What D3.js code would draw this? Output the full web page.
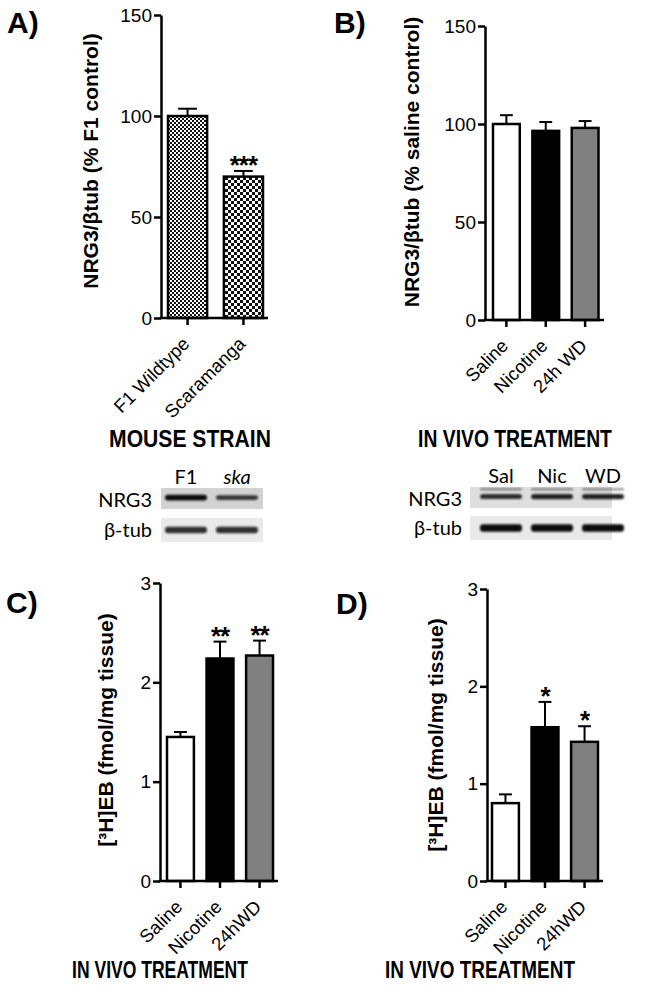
<!DOCTYPE html>
<html>
<head>
<meta charset="utf-8">
<script src="https://cdn.jsdelivr.net/npm/d3@7"></script>
<style>
body { margin: 0; background: #fff; }
svg { display: block; font-family: "Liberation Sans", Arial, sans-serif; }
</style>
</head>
<body>
<svg id="fig" width="651" height="998"></svg>
<script>
// values
const strainLabels = ['F1 Wildtype', 'Scaramanga'];
const strainNrg3 = [100, 70];
const strainNrg3Sem = [3.6, 2.8];
const strainSig = ['', '***'];

const treatLabelsB = ['Saline', 'Nicotine', '24h WD'];
const treatNrg3 = [100, 96.5, 98];
const treatNrg3Sem = [4.5, 4.5, 3.5];

const treatLabelsCD = ['Saline', 'Nicotine', '24hWD'];
const ebC = [1.45, 2.24, 2.27];
const ebCSem = [0.05, 0.17, 0.15];
const sigC = ['', '**', '**'];
const ebD = [0.80, 1.58, 1.43];
const ebDSem = [0.09, 0.26, 0.16];
const sigD = ['', '*', '*'];

const nrg3Ticks = [0, 50, 100, 150];
const ebTicks = [0, 1, 2, 3];

// western blot lanes and rough band darkness (0..1)
const blotLanesA = ['F1', 'ska'];
const blotNrg3A = [0.95, 0.75];
const blotTubA = [0.8, 0.8];
const blotLanesB = ['Sal', 'Nic', 'WD'];
const blotNrg3B = [0.8, 0.85, 0.85];
const blotTubB = [0.95, 0.95, 0.95];

const FONT = '"Liberation Sans", Arial, sans-serif';
const svg = d3.select('#fig');
const defs = svg.append('defs');

function checker(id, size) {
    const p = defs.append('pattern').attr('id', id)
        .attr('patternUnits', 'userSpaceOnUse')
        .attr('width', size * 2).attr('height', size * 2);
    p.append('rect').attr('width', size * 2).attr('height', size * 2).attr('fill', '#fff');
    p.append('rect').attr('width', size).attr('height', size).attr('fill', '#111');
    p.append('rect').attr('x', size).attr('y', size).attr('width', size).attr('height', size).attr('fill', '#111');
}
checker('fine', 2);
checker('coarse', 3);

defs.append('filter').attr('id', 'blur').attr('x', '-20%').attr('y', '-100%').attr('width', '140%').attr('height', '300%')
    .append('feGaussianBlur').attr('stdDeviation', 1.1);

// squeeze a text horizontally (in its own frame) to a wanted length
function fitText(sel, x, y, rot, len) {
    const w = sel.node().getComputedTextLength();
    const s = Math.min(1, len / w);
    sel.attr('transform', 'translate(' + x + ',' + y + ') rotate(' + rot + ') scale(' + s + ',1)');
}

function drawPanel(o) {
    const g = svg.append('g');
    const x = d3.scaleBand().domain(o.labels).range(o.bandRange).paddingInner(o.pad);
    const y = d3.scaleLinear().domain([o.ticks[0], o.ticks[o.ticks.length - 1]]).range(o.yRange);
    const y0 = y(0);

    // bars
    g.selectAll('rect.bar').data(o.values).join('rect')
        .attr('class', 'bar')
        .attr('x', (d, i) => x(o.labels[i]))
        .attr('width', x.bandwidth())
        .attr('y', d => y(d))
        .attr('height', d => y0 - y(d))
        .attr('fill', (d, i) => o.fills[i])
        .attr('stroke', '#000').attr('stroke-width', 2.5);

    // error bars, upper half only
    const cap = x.bandwidth() * 0.24;
    o.values.forEach(function (v, i) {
        const cx = x(o.labels[i]) + x.bandwidth() / 2;
        const top = y(v + o.sems[i]);
        g.append('line').attr('x1', cx).attr('x2', cx).attr('y1', y(v)).attr('y2', top)
            .attr('stroke', '#000').attr('stroke-width', 2);
        g.append('line').attr('x1', cx - cap).attr('x2', cx + cap).attr('y1', top).attr('y2', top)
            .attr('stroke', '#000').attr('stroke-width', 2);
        if (o.sig && o.sig[i]) {
            g.append('text').attr('x', cx).attr('y', top + 3)
                .attr('text-anchor', 'middle').attr('font-size', 26).attr('font-weight', 'bold')
                .attr('letter-spacing', -1)
                .text(o.sig[i]);
        }
    });

    // y axis
    const ya = g.append('g').attr('transform', 'translate(' + o.axisX + ',0)')
        .call(d3.axisLeft(y).tickValues(o.ticks).tickFormat(d3.format('d'))
            .tickSize(7).tickSizeOuter(0).tickPadding(2));
    ya.attr('font-family', FONT).attr('font-size', 19);
    ya.select('.domain').attr('stroke-width', 2.5);
    ya.selectAll('.tick line').attr('stroke-width', 2.5);
    ya.selectAll('.tick text').attr('fill', '#000');

    // x axis
    const xa = g.append('g').attr('transform', 'translate(0,' + y0 + ')')
        .call(d3.axisBottom(x).tickSize(7).tickSizeOuter(0));
    xa.attr('font-family', FONT).attr('font-size', 18.5);
    xa.select('.domain').remove();
    xa.selectAll('.tick line').attr('stroke-width', 2.5);
    xa.selectAll('.tick text')
        .attr('fill', '#000')
        .attr('x', 0).attr('y', 0).attr('dy', 0)
        .attr('text-anchor', 'end')
        .attr('transform', 'translate(3,27) rotate(-45)');
    g.append('line').attr('x1', o.axisX - 1.25).attr('x2', o.axisEnd).attr('y1', y0).attr('y2', y0)
        .attr('stroke', '#000').attr('stroke-width', 2.5);

    // y title
    const yt = g.append('text')
        .attr('text-anchor', 'middle').attr('font-weight', 'bold').attr('font-size', 21)
        .text(o.yTitle);
    fitText(yt, o.yTitleX, o.yTitleY, -90, o.yTitleLen);

    // x title
    const xt = g.append('text')
        .attr('text-anchor', 'middle').attr('font-weight', 'bold').attr('font-size', 24)
        .text(o.xTitle);
    fitText(xt, o.xTitleX, o.xTitleY, 0, o.xTitleLen);

    // panel letter
    g.append('text').attr('x', o.letterX).attr('y', o.letterY)
        .attr('font-weight', 'bold').attr('font-size', 30)
        .text(o.letter);
}

function drawBlot(o) {
    const g = svg.append('g').attr('font-family', 'Lato, "Open Sans", sans-serif');
    const x = d3.scalePoint().domain(o.lanes).range(o.laneRange);
    const bw = o.bandW;

    g.append('rect').attr('x', o.x0).attr('y', o.nrgY).attr('width', o.x1 - o.x0).attr('height', 21).attr('fill', o.nrgBg);
    g.append('rect').attr('x', o.x0).attr('y', o.tubY).attr('width', o.x1 - o.x0).attr('height', 24).attr('fill', '#e9e9e9');

    const bands = g.append('g').attr('filter', 'url(#blur)');
    o.nrg.forEach(function (d, i) {
        const cx = x(o.lanes[i]);
        if (o.upper) {
            bands.append('rect').attr('x', cx - bw / 2).attr('y', o.nrgY + 1).attr('width', bw).attr('height', 2.5)
                .attr('rx', 1.5).attr('fill', 'rgba(0,0,0,0.4)');
        }
        bands.append('rect').attr('x', cx - bw / 2).attr('y', o.nrgY + 9 - d * 2.5).attr('width', bw)
            .attr('height', 1.5 + d * 4.5).attr('rx', 3).attr('fill', 'rgba(0,0,0,' + d + ')');
    });
    o.tub.forEach(function (d, i) {
        const cx = x(o.lanes[i]);
        bands.append('rect').attr('x', cx - bw / 2).attr('y', o.tubY + 12 - d * 4).attr('width', bw)
            .attr('height', d * 8).attr('rx', 3).attr('fill', 'rgba(0,0,0,' + d + ')');
    });

    g.selectAll('text.lane').data(o.lanes).join('text')
        .attr('class', 'lane')
        .attr('x', d => x(d)).attr('y', o.nrgY - 4)
        .attr('text-anchor', 'middle').attr('font-size', 20)
        .attr('font-style', (d, i) => o.italic && o.italic[i] ? 'italic' : 'normal')
        .text(d => d);

    g.append('text').attr('x', o.labelRight).attr('y', o.nrgY + 19).attr('text-anchor', 'end').attr('font-size', 20).text('NRG3');
    g.append('text').attr('x', o.labelRight).attr('y', o.tubY + 19).attr('text-anchor', 'end').attr('font-size', 20).text('β-tub');
}

drawPanel({
    labels: strainLabels, values: strainNrg3, sems: strainNrg3Sem, sig: strainSig,
    fills: ['url(#fine)', 'url(#coarse)'],
    ticks: nrg3Ticks, yRange: [318, 15], axisX: 161, axisEnd: 268,
    bandRange: [168, 263], pad: 0.3,
    yTitle: 'NRG3/βtub (% F1 control)', yTitleX: 98, yTitleY: 161, yTitleLen: 258,
    xTitle: 'MOUSE STRAIN', xTitleX: 190, xTitleY: 447, xTitleLen: 162,
    letter: 'A)', letterX: 7, letterY: 33
});

drawPanel({
    labels: treatLabelsB, values: treatNrg3, sems: treatNrg3Sem,
    fills: ['#fff', '#000', '#808080'],
    ticks: nrg3Ticks, yRange: [320, 26], axisX: 485, axisEnd: 604,
    bandRange: [493, 598.5], pad: 0.32,
    yTitle: 'NRG3/βtub (% saline control)', yTitleX: 419, yTitleY: 162, yTitleLen: 313,
    xTitle: 'IN VIVO TREATMENT', xTitleX: 515, xTitleY: 447, xTitleLen: 194,
    letter: 'B)', letterX: 334, letterY: 33
});

drawPanel({
    labels: treatLabelsCD, values: ebC, sems: ebCSem, sig: sigC,
    fills: ['#fff', '#000', '#808080'],
    ticks: ebTicks, yRange: [881, 583], axisX: 160, axisEnd: 278,
    bandRange: [167, 273], pad: 0.32,
    yTitle: '[³H]EB (fmol/mg tissue)', yTitleX: 113, yTitleY: 730, yTitleLen: 246,
    xTitle: 'IN VIVO TREATMENT', xTitleX: 160, xTitleY: 978, xTitleLen: 176,
    letter: 'C)', letterX: 6, letterY: 613
});

drawPanel({
    labels: treatLabelsCD, values: ebD, sems: ebDSem, sig: sigD,
    fills: ['#fff', '#000', '#808080'],
    ticks: ebTicks, yRange: [881, 589], axisX: 487, axisEnd: 603,
    bandRange: [492, 598], pad: 0.32,
    yTitle: '[³H]EB (fmol/mg tissue)', yTitleX: 443, yTitleY: 735, yTitleLen: 236,
    xTitle: 'IN VIVO TREATMENT', xTitleX: 480, xTitleY: 978, xTitleLen: 190,
    letter: 'D)', letterX: 336, letterY: 614
});

drawBlot({
    lanes: blotLanesA, nrg: blotNrg3A, tub: blotTubA, italic: [false, true],
    laneRange: [186, 237], bandW: 42, x0: 161, x1: 263, nrgBg: '#d2d2d2',
    nrgY: 488, tubY: 518, labelRight: 152
});

drawBlot({
    lanes: blotLanesB, nrg: blotNrg3B, tub: blotTubB, upper: true,
    laneRange: [501, 603], bandW: 42, x0: 470, x1: 612, nrgBg: '#dedede',
    nrgY: 487, tubY: 516, labelRight: 462
});
</script>
</body>
</html>
